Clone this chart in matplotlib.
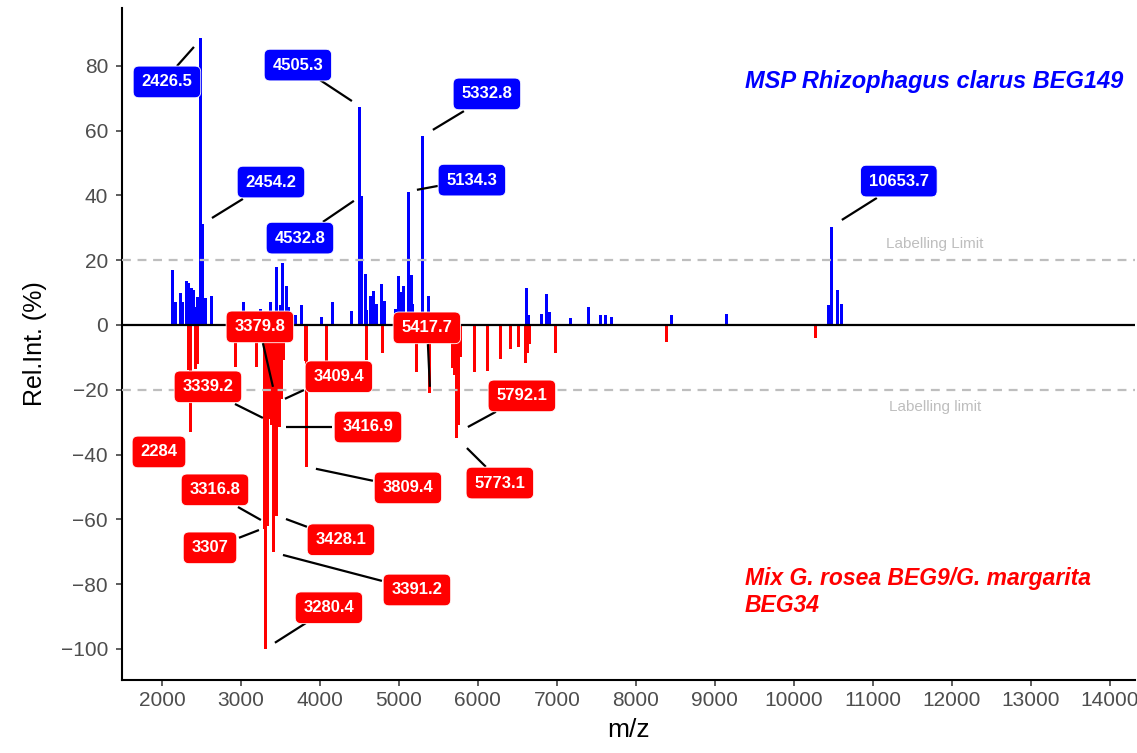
import matplotlib
matplotlib.use("Agg")
import matplotlib.pyplot as plt

plt.rcParams['font.family'] = ['Liberation Sans', 'DejaVu Sans']

# ---------------- data ----------------
blue_mz = [2139, 2177, 2240, 2266, 2316, 2342, 2380, 2405, 2443, 2456,
           2494, 2519, 2557, 2633, 3038, 3253, 3380, 3456, 3506, 3532,
           3582, 3608, 3696, 3772, 4025, 4165, 4405, 4506, 4532, 4582,
           4595, 4646, 4684, 4722, 4785, 4823, 4962, 5000, 5038, 5063,
           5127, 5165, 5177, 5304, 5380, 6620, 6646, 6810, 6873, 6911,
           7177, 7405, 7557, 7620, 7696, 8456, 9152, 10443, 10481, 10557,
           10608]
blue_int = [17, 7, 10, 7, 13.6, 13, 11.4, 10.8, 5.6, 8.6,
            88.6, 31.2, 8.3, 9, 7, 5, 7, 18, 6, 19,
            12, 5.6, 3, 6, 2.5, 7, 4.3, 67.3, 39.8, 15.7,
            4.6, 8.8, 10.5, 6.5, 12.6, 7.4, 5, 15, 10.2, 12,
            41, 15.4, 6.4, 58.3, 9, 11.4, 3, 3.4, 9.6, 4,
            2.2, 5.6, 3, 3, 2.5, 3, 3.4, 6, 30.2, 10.8,
            6.5]

red_mz = [2342, 2367, 2430, 2456, 2937, 3203, 3304, 3316, 3342, 3367,
          3392, 3418, 3456, 3494, 3519, 3544, 3823, 3835, 4089, 4595,
          4797, 5228, 5392, 5684, 5709, 5734, 5759, 5785, 5962, 6127,
          6291, 6418, 6519, 6608, 6633, 6658, 6987, 8392, 10278]
red_int = [-14, -33, -13.5, -12, -13, -13, -63, -100, -62, -29,
           -31, -70, -59, -31.5, -23, -10.8, -11, -44, -11, -10.8,
           -8.7, -14.5, -21, -13.3, -15.4, -35, -31, -10, -14.5, -14.2,
           -10.6, -7.5, -6.8, -11.8, -8.7, -6, -8.6, -5.2, -4]

# dense group of small peaks under the 3379.8 label
red_cluster_mz = [3322, 3330, 3342, 3355, 3367, 3380, 3392, 3405, 3418,
                  3430, 3443, 3456, 3468, 3481, 3494, 3506]
red_cluster_int = [-6, -8, -10, -12, -14, -16, -17.5, -17.6, -17.6,
                   -17.6, -17.6, -17.6, -17.6, -17.6, -17.6, -17.6]

# labels: text, box centre (m/z, int), leader start, leader end
blue_labels = ["2426.5", "4505.3", "2454.2", "4532.8", "5332.8", "5134.3", "10653.7"]
blue_label_xy = [(2063, 75.0), (3721, 80.2), (3380, 44.1), (3747, 26.8),
                 (6114, 71.3), (5924, 44.7), (11329, 44.4)]
blue_leader = [((2190, 79.9), (2405, 85.8)), ((4000, 75.6), (4405, 69.1)),
               ((3025, 38.9), (2633, 33.0)), ((4038, 31.8), (4430, 38.3)),
               ((5823, 66.0), (5430, 60.2)), ((5494, 42.9), (5228, 41.7)),
               ((11051, 39.2), (10608, 32.4))]

red_labels = ["3379.8", "5417.7", "3339.2", "3409.4", "3416.9", "2284",
              "3809.4", "3316.8", "3428.1", "3307", "3391.2", "3280.4",
              "5792.1", "5773.1"]
red_label_xy = [(3240, -0.6), (5354, -0.9), (2582, -19.1), (4240, -16.0),
                (4608, -31.5), (1962, -39.2), (5114, -50.3), (2671, -50.9),
                (4266, -66.3), (2608, -68.8), (5228, -81.8), (4114, -87.3),
                (6557, -21.9), (6278, -48.8)]
red_leader = [((3278, -5.6), (3405, -19.1)), ((5367, -5.9), (5392, -19.1)),
              ((2924, -24.4), (3278, -28.7)), ((3797, -20.1), (3557, -22.8)),
              ((4152, -31.5), (3570, -31.5)), None,
              ((4671, -48.1), (3949, -44.4)), ((2962, -56.2), (3253, -60.2)),
              ((3835, -62.3), (3570, -59.9)), ((2975, -65.7), (3228, -63.3)),
              ((4785, -79.0), (3532, -71.0)), ((3823, -92.0), (3430, -98.1)),
              ((6228, -26.8), (5873, -31.5)), ((6101, -43.8), (5861, -38.0))]

x_ticks = list(range(2000, 14001, 1000))
y_ticks = list(range(-100, 81, 20))
label_limit = 20

blue_title = "MSP Rhizophagus clarus BEG149"
red_title = "Mix G. rosea BEG9/G. margarita\nBEG34"

# ---------------- figure ----------------
fig = plt.figure(figsize=(11.37, 7.53), dpi=100)
ax = fig.add_axes([0.1073, 0.0969, 0.8907, 0.8924])

BLUE = "#0000FF"
RED = "#FF0000"

ax.bar(blue_mz, blue_int, width=38, color=BLUE, zorder=2, linewidth=0)
ax.bar(red_mz, red_int, width=38, color=RED, zorder=2, linewidth=0)
ax.bar(red_cluster_mz, red_cluster_int, width=38, color=RED, zorder=2, linewidth=0)

ax.axhline(label_limit, color="#BEBEBE", lw=1.6, ls=(0, (4, 3)), zorder=3)
ax.axhline(-label_limit, color="#BEBEBE", lw=1.6, ls=(0, (4, 3)), zorder=3)
ax.axhline(0, color="black", lw=1.6, zorder=4)

ax.text(11785, 25.0, "Labelling Limit", color="#BEBEBE", fontsize=11,
        ha="center", va="center")
ax.text(11785, -25.3, "Labelling limit", color="#BEBEBE", fontsize=11,
        ha="center", va="center")


def draw_labels(texts, xys, leaders, color):
    for t, (x, y), ld in zip(texts, xys, leaders):
        if ld is not None:
            (x1, y1), (x2, y2) = ld
            ax.plot([x1, x2], [y1, y2], color="black", lw=1.6, zorder=5,
                    solid_capstyle="butt")
        ax.text(x, y, t, color="white", fontsize=12, fontweight="bold",
                ha="center", va="center", zorder=6,
                bbox=dict(boxstyle="round,pad=0.5,rounding_size=0.35",
                          fc=color, ec="white", lw=0.6))


draw_labels(blue_labels, blue_label_xy, blue_leader, BLUE)
draw_labels(red_labels, red_label_xy, red_leader, RED)

ax.text(9380, 75.0, blue_title, color=BLUE, fontsize=17, fontweight="bold",
        style="italic", ha="left", va="center")
ax.text(9380, -82.4, red_title, color=RED, fontsize=16.5, fontweight="bold",
        style="italic", ha="left", va="center", linespacing=1.25)

ax.set_xlim(1494, 14316)
ax.set_ylim(-109.6, 97.8)
ax.set_xticks(x_ticks)
ax.set_yticks(y_ticks)
ax.set_yticklabels([str(v).replace("-", "\u2212") for v in y_ticks])
ax.tick_params(axis="both", colors="#333333", labelcolor="#4D4D4D",
               labelsize=15, length=4, width=1.1)
ax.tick_params(axis="x", pad=4)
ax.tick_params(axis="y", pad=6)

for s in ["top", "right"]:
    ax.spines[s].set_visible(False)
for s in ["left", "bottom"]:
    ax.spines[s].set_linewidth(1.5)
    ax.spines[s].set_color("black")

ax.set_xlabel("m/z", fontsize=19, labelpad=6)
ax.set_ylabel("Rel.Int. (%)", fontsize=18, labelpad=10)

fig.savefig("out.png", dpi=100)
